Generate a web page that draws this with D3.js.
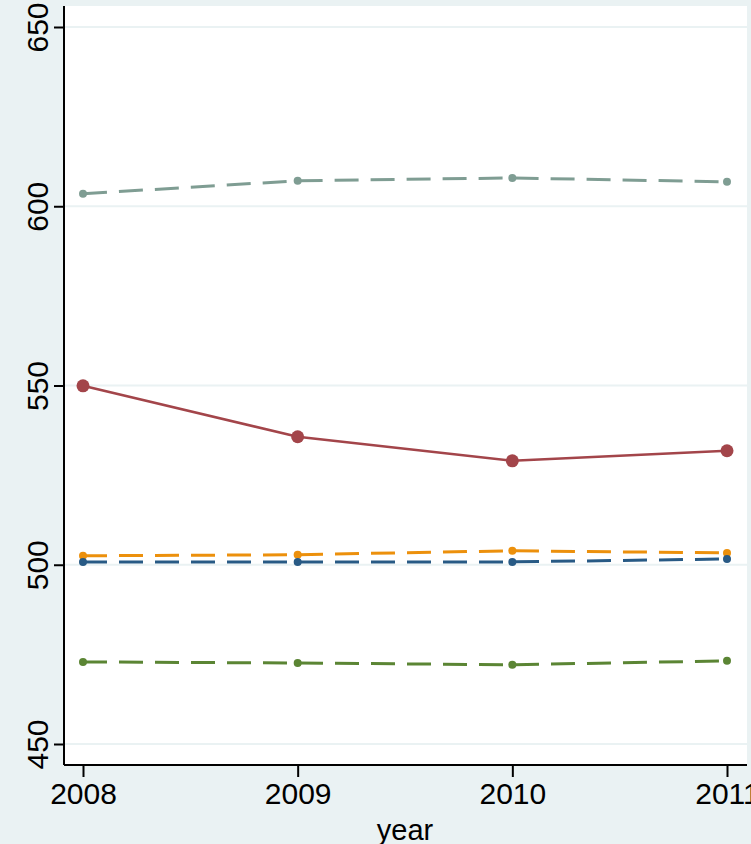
<!DOCTYPE html>
<html><head><meta charset="utf-8">
<script src="https://cdn.jsdelivr.net/npm/d3@7"></script>
<style>html,body{margin:0;padding:0;background:#eaf2f3;overflow:hidden}</style>
</head><body>
<svg id="c" width="751" height="844"></svg>
<script>
const years = [2008, 2009, 2010, 2011];
const yTicks = [450, 500, 550, 600, 650];
const seriesTeal = [603.5, 607.1, 607.9, 606.8];
const seriesRed = [549.9, 535.7, 529.0, 531.8];
const seriesOrange = [502.5, 502.8, 503.9, 503.3];
const seriesBlue = [500.8, 500.8, 500.8, 501.6];
const seriesGreen = [472.9, 472.6, 472.1, 473.2];

const series = [
  {values: seriesTeal, color: "#7f9d93", dash: "24,12", r: 4, w: 3},
  {values: seriesRed, color: "#a3454a", dash: null, r: 6.5, w: 2.6},
  {values: seriesOrange, color: "#ec900c", dash: "24,12", r: 4, w: 3},
  {values: seriesBlue, color: "#285a85", dash: "24,12", r: 4, w: 3},
  {values: seriesGreen, color: "#5b8534", dash: "24,12", r: 4, w: 3}
];

const svg = d3.select("#c");
const plot = {left: 64, right: 747, top: 6, bottom: 765};
const x = d3.scaleLinear().domain([2008, 2011]).range([83, 727]);
const y = d3.scaleLinear().domain([450, 650]).range([744, 27]);

svg.append("rect").attr("x", plot.left).attr("y", plot.top)
  .attr("width", plot.right - plot.left).attr("height", plot.bottom - plot.top)
  .attr("fill", "#ffffff");

// gridlines
svg.append("g").selectAll("line").data(yTicks).join("line")
  .attr("x1", plot.left).attr("x2", plot.right)
  .attr("y1", d => y(d)).attr("y2", d => y(d))
  .attr("stroke", "#eaf2f3").attr("stroke-width", 2);

// series
const line = d3.line().x((d, i) => x(years[i])).y(d => y(d));
series.forEach(s => {
  svg.append("path").datum(s.values).attr("d", line)
    .attr("fill", "none").attr("stroke", s.color).attr("stroke-width", s.w)
    .attr("stroke-dasharray", s.dash);
  svg.append("g").selectAll("circle").data(s.values).join("circle")
    .attr("cx", (d, i) => x(years[i])).attr("cy", d => y(d))
    .attr("r", s.r).attr("fill", s.color);
});

// axes
const font = "'Liberation Sans', Arial, Helvetica, sans-serif";
const yAxis = svg.append("g").attr("transform", `translate(${plot.left},0)`)
  .call(d3.axisLeft(y).tickValues(yTicks).tickSize(10).tickPadding(0).tickFormat(d3.format("d")));
yAxis.select(".domain").attr("d", `M0,${plot.top}V${plot.bottom}`).attr("stroke", "#000").attr("stroke-width", 2);
yAxis.selectAll(".tick line").attr("stroke", "#000").attr("stroke-width", 2);
yAxis.selectAll(".tick text").attr("transform", "rotate(-90)")
  .attr("x", 0).attr("y", -16).attr("dy", 0)
  .attr("text-anchor", "middle").attr("font-family", font).attr("font-size", 30).attr("fill", "#000");

const xAxis = svg.append("g").attr("transform", `translate(0,${plot.bottom})`)
  .call(d3.axisBottom(x).tickValues(years).tickSize(12).tickPadding(6).tickFormat(d3.format("d")));
xAxis.select(".domain").attr("d", `M${plot.left},0H${plot.right}`).attr("stroke", "#000").attr("stroke-width", 2);
xAxis.selectAll(".tick line").attr("stroke", "#000").attr("stroke-width", 2);
xAxis.selectAll(".tick text").attr("font-family", font).attr("font-size", 30).attr("fill", "#000")
  .attr("dy", "0.71em");

svg.append("text").attr("x", 405).attr("y", 840).attr("text-anchor", "middle")
  .attr("font-family", font).attr("font-size", 29).attr("fill", "#000").text("year");
</script>
</body></html>
